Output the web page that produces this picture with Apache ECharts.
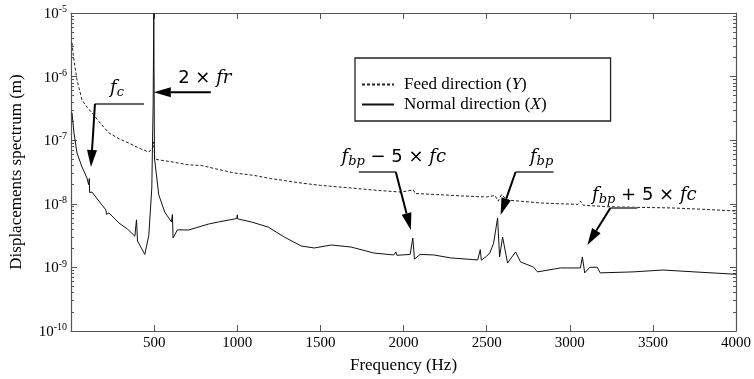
<!DOCTYPE html>
<html><head><meta charset="utf-8">
<script src="https://cdn.jsdelivr.net/npm/echarts@6/dist/echarts.min.js"></script>
<style>html,body{margin:0;padding:0;background:#fff}#c{width:754px;height:379px}</style>
</head><body><div id="c"></div>
<script>
// ---- data ----
const seriesNames = ['Feed direction (Y)', 'Normal direction (X)'];
const feedHz = [6,12,18,36,66,96,126,180,228,290,348,410,468,490,498,504,528,600,707,785,880,983,1100,1200,1385,1500,1685,1850,1984,2060,2070,2200,2350,2500,2550,2570,2590,2620,2700,2824,2950,3050,3064,3080,3225,3400,3621,3800,4000];
const feedDisp = [3.4e-6,2.4e-6,1.8e-6,8.9e-7,4.3e-7,3.3e-7,2.7e-7,1.8e-7,1.3e-7,1.05e-7,9.0e-8,7.5e-8,6.5e-8,7.5e-8,9.4e-8,5.1e-8,4.9e-8,4.6e-8,4.1e-8,4.0e-8,3.5e-8,3.05e-8,2.8e-8,2.5e-8,2.12e-8,1.95e-8,1.77e-8,1.62e-8,1.53e-8,1.65e-8,1.45e-8,1.4e-8,1.33e-8,1.28e-8,1.35e-8,1.1e-8,1.4e-8,1.15e-8,1.1e-8,1.03e-8,1.0e-8,9.8e-9,1.1e-8,9.5e-9,9.0e-9,8.8e-9,8.6e-9,8.2e-9,7.7e-9];
const normalHz = [6,18,36,66,96,106,110,112,126,186,210,214,228,270,288,340,384,394,400,408,444,468,486,494,498,502,528,564,604,610,614,640,707,827,887,983,998,1000,1002,1085,1187,1283,1385,1463,1565,1575,1685,1823,1942,1954,1960,2040,2056,2066,2100,2182,2284,2446,2462,2468,2500,2520,2542,2566,2578,2596,2626,2674,2704,2782,2806,2944,3064,3076,3090,3120,3165,3183,3381,3561,3783,4000];
const normalDisp = [2.7e-7,1.3e-7,6.3e-8,3.8e-8,2.55e-8,2.0e-8,2.5e-8,1.5e-8,1.53e-8,9.6e-9,8.0e-9,6.8e-9,7.2e-9,5.6e-9,5.0e-9,4.0e-9,3.1e-9,5.6e-9,2.6e-9,2.6e-9,1.6e-9,3.2e-9,1.77e-8,3.6e-7,1.0e-5,5.25e-8,1.38e-8,7.4e-9,5.2e-9,6.8e-9,2.9e-9,3.9e-9,3.87e-9,4.8e-9,5.18e-9,5.77e-9,5.9e-9,6.7e-9,5.8e-9,5.18e-9,4.3e-9,3.0e-9,2.17e-9,2.02e-9,2.25e-9,2.35e-9,2.09e-9,1.68e-9,1.57e-9,1.75e-9,1.55e-9,1.6e-9,2.9e-9,1.35e-9,1.6e-9,1.57e-9,1.41e-9,1.31e-9,1.9e-9,1.3e-9,1.5e-9,1.7e-9,2.4e-9,6.0e-9,1.46e-9,3.0e-9,1.17e-9,1.75e-9,1.22e-9,1.01e-9,8.5e-10,9.8e-10,9.8e-10,1.46e-9,8.2e-10,1.0e-9,1.01e-9,8.2e-10,8.5e-10,9.1e-10,8.4e-10,7.8e-10];
const xTickValues = [500,1000,1500,2000,2500,3000,3500,4000];
const yDecadeExponents = [-10,-9,-8,-7,-6,-5];
// annotation anchors (data coordinates of arrow tips)
const annoTipHz = [120, 498, 2044, 2584, 3106];
const annoTipDisp = [3.8e-8, 5.7e-7, 3.87e-9, 6.67e-9, 2.25e-9];

// ---- helpers ----
const pairs = (xs, ys) => xs.map((x, i) => [x, ys[i]]);
const minorY = [];
yDecadeExponents.slice(0, -1).forEach(e => { for (let k = 2; k <= 9; k++) minorY.push(+(k + 'e' + e)); });
const SERIF = 'Liberation Serif';
const MATH = 'DejaVu Serif';
const axisCol = '#555';

const chart = echarts.init(document.getElementById('c'), null, {renderer: 'canvas'});
const yBase = {
  type: 'log', logBase: 10, min: 1e-10, max: 1e-5,
  splitLine: {show: false}, axisLabel: {show: false},
  axisLine: {show: false}, axisTick: {show: false}
};
const option = {
  animation: false,
  backgroundColor: '#fff',
  grid: {left: 70, right: 17, top: 13, bottom: 48},
  legend: {
    data: seriesNames,
    orient: 'vertical', left: 355, top: 58,
    itemWidth: 32, itemHeight: 14, itemGap: 3,
    padding: [18, 64, 8, 6],
    borderColor: '#222', borderWidth: 1.3,
    itemStyle: {color: 'rgba(0,0,0,0)', borderColor: 'rgba(0,0,0,0)', borderWidth: 0, opacity: 0},
    textStyle: {fontFamily: SERIF, fontSize: 17, color: '#000', padding: [0, 0, 0, 5],
      rich: {i: {fontFamily: SERIF, fontSize: 17, fontStyle: 'italic', color: '#000'}}},
    formatter: n => n.replace(/\((\w)\)/, '({i|$1})')
  },
  xAxis: [
    {type: 'value', min: 0, max: 4000, interval: 500, position: 'bottom',
     name: 'Frequency (Hz)', nameLocation: 'middle', nameGap: 26,
     nameTextStyle: {fontFamily: SERIF, fontSize: 17, color: '#000'},
     axisLine: {lineStyle: {color: axisCol, width: 1.2}},
     axisTick: {inside: true, length: 6, lineStyle: {color: axisCol}},
     axisLabel: {fontFamily: SERIF, fontSize: 15, color: '#000', margin: 5,
       formatter: v => xTickValues.indexOf(v) >= 0 ? String(v) : ''},
     splitLine: {show: false}},
    {type: 'value', min: 0, max: 4000, interval: 500, position: 'top',
     axisLine: {lineStyle: {color: axisCol, width: 1.2}},
     axisTick: {inside: true, length: 6, lineStyle: {color: axisCol}},
     axisLabel: {show: false}, splitLine: {show: false}}
  ],
  yAxis: [
    Object.assign({}, yBase, {
      position: 'left',
      name: 'Displacements spectrum (m)', nameLocation: 'middle', nameGap: 46,
      nameTextStyle: {fontFamily: SERIF, fontSize: 17, color: '#000'},
      axisLine: {show: true, lineStyle: {color: axisCol, width: 1.2}},
      axisTick: {show: true, inside: true, length: 6, lineStyle: {color: axisCol}},
      axisLabel: {show: true, margin: 4,
        formatter: v => '{b|10}{s|' + Math.round(Math.log10(v)) + '}',
        rich: {
          b: {fontFamily: SERIF, fontSize: 15, color: '#000', verticalAlign: 'bottom', lineHeight: 17},
          s: {fontFamily: SERIF, fontSize: 10, color: '#000', verticalAlign: 'top', lineHeight: 10}
        }}
    }),
    Object.assign({}, yBase, {position: 'left',
      axisTick: {show: true, inside: true, length: 3, customValues: minorY, lineStyle: {color: axisCol}}}),
    Object.assign({}, yBase, {position: 'right',
      axisLine: {show: true, onZero: false, lineStyle: {color: axisCol, width: 1.2}},
      axisTick: {show: true, inside: true, length: 6, lineStyle: {color: axisCol}}}),
    Object.assign({}, yBase, {position: 'right',
      axisTick: {show: true, inside: true, length: 3, customValues: minorY, lineStyle: {color: axisCol}}})
  ],
  series: [
    {name: seriesNames[0], type: 'line', xAxisIndex: 0, yAxisIndex: 0,
     data: pairs(feedHz, feedDisp), symbol: 'none', showSymbol: false,
     lineStyle: {color: '#222', width: 1, type: [3, 2]}, itemStyle: {color: '#222'}},
    {name: seriesNames[1], type: 'line', xAxisIndex: 0, yAxisIndex: 0,
     data: pairs(normalHz, normalDisp), symbol: 'none', showSymbol: false,
     lineStyle: {color: '#111', width: 1}, itemStyle: {color: '#111'}}
  ]
};
chart.setOption(option);

// ---- annotations (arrow + leader + math label), anchored to data tips ----
const mathRich = {
  f: {fontFamily: MATH, fontStyle: 'italic', fontSize: 18, color: '#000', verticalAlign: 'top', lineHeight: 20},
  n: {fontFamily: 'DejaVu Sans', fontSize: 18, color: '#000', verticalAlign: 'top', lineHeight: 20},
  s: {fontFamily: MATH, fontStyle: 'italic', fontSize: 13, color: '#000', verticalAlign: 'bottom', lineHeight: 13}
};
const annoLabels = [
  '{f|f}{s|c}',
  '{n|2 × }{f|fr}',
  '{f|f}{s|bp}{n| − 5 × }{f|fc}',
  '{f|f}{s|bp}',
  '{f|f}{s|bp}{n| + 5 × }{f|fc}'
];
// pixel offsets from the tip: elbow, leader end, label centre
const annoLayout = [
  {elbow: [4, -63], lead: [53, -63], text: [26, -78]},
  {elbow: [57, 0], lead: [57, 0], text: [51, -13]},
  {elbow: [-15, -58], lead: [-52, -58], text: [-17, -72]},
  {elbow: [15, -43], lead: [53, -43], text: [41, -57]},
  {elbow: [23, -37], lead: [50, -37], text: [57, -49]}
];
const els = [];
annoTipHz.forEach((hz, i) => {
  const tip = chart.convertToPixel({seriesIndex: 0}, [hz, annoTipDisp[i]]);
  const L = annoLayout[i];
  const el = [tip[0] + L.elbow[0], tip[1] + L.elbow[1]];
  const ld = [tip[0] + L.lead[0], tip[1] + L.lead[1]];
  const dx = tip[0] - el[0], dy = tip[1] - el[1];
  const len = Math.hypot(dx, dy), ux = dx / len, uy = dy / len;
  const hl = 17, hw = 5;
  const base = [tip[0] - ux * hl, tip[1] - uy * hl];
  if (L.lead[0] !== L.elbow[0] || L.lead[1] !== L.elbow[1]) {
    els.push({type: 'line', silent: true, z: 100,
      shape: {x1: el[0], y1: el[1], x2: ld[0], y2: ld[1]},
      style: {stroke: '#666', lineWidth: 2}});
  }
  els.push({type: 'line', silent: true, z: 100,
    shape: {x1: el[0], y1: el[1], x2: base[0], y2: base[1]},
    style: {stroke: '#000', lineWidth: 2}});
  els.push({type: 'polygon', silent: true, z: 100,
    shape: {points: [tip, [base[0] - uy * hw, base[1] + ux * hw], [base[0] + uy * hw, base[1] - ux * hw]]},
    style: {fill: '#000'}});
  els.push({type: 'text', silent: true, z: 100,
    x: tip[0] + L.text[0], y: tip[1] + L.text[1],
    style: {text: annoLabels[i], rich: mathRich, align: 'center', verticalAlign: 'middle', fill: '#000'}});
});
chart.setOption({graphic: els});
</script></body></html>
